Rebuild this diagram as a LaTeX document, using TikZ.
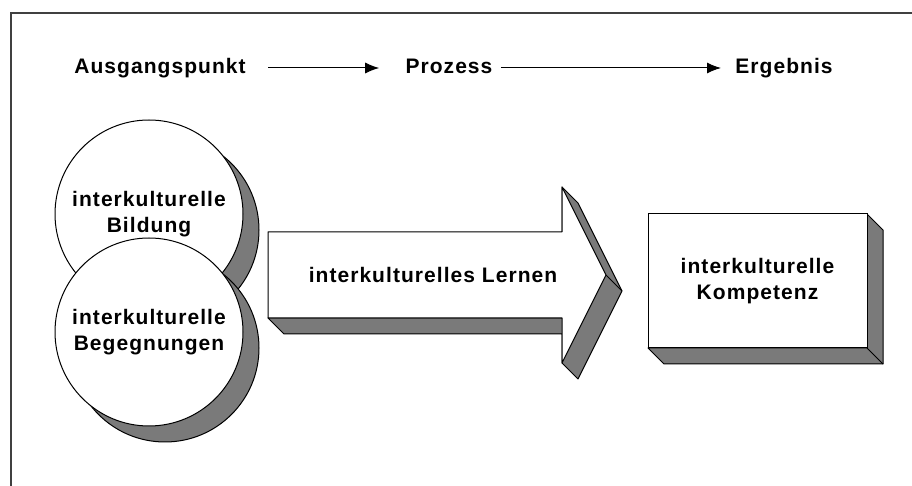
\documentclass[tikz,border=0pt]{standalone}
\usepackage{fontspec}
\setmainfont{Liberation Sans}[LetterSpace=5]
\usetikzlibrary{arrows.meta}
\tikzset{
  lbl/.style={font=\fontsize{10.5}{13}\selectfont\bfseries, align=center, inner sep=0pt},
  frontface/.style={draw, fill=white, line width=0.5pt},
  shadowface/.style={draw, fill=black!52, line width=0.5pt, line join=round},
  flow/.style={line width=0.5pt, -{Latex[length=7pt,width=5.5pt]}}
}
\begin{document}
\begin{tikzpicture}[x=0.5pt, y=-0.5pt]
  \useasboundingbox (0,0) rectangle (912,486);
  % frame
  \draw[line width=0.6pt, black!75] (912,13) -- (11,13) -- (11,486);
  % header
  \node[lbl, anchor=base] (start) at (160,74) {Ausgangspunkt};
  \node[lbl, anchor=base] (proc) at (449,74) {Prozess};
  \node[lbl, anchor=base] (result) at (784,74) {Ergebnis};
  \draw[flow, shorten <=11pt, shorten >=13pt]
    ([yshift=3pt]start.base east) -- ([yshift=3pt]proc.base west);
  \draw[flow, shorten <=4pt, shorten >=7pt]
    ([yshift=3pt]proc.base east) -- ([yshift=3pt]result.base west);
  % circles
  \draw[shadowface] (165,230) circle[radius=47pt];
  \node[frontface, circle, minimum size=94pt, lbl] (bildung) at (149,214)
    {interkulturelle\\Bildung};
  \draw[shadowface] (165,348) circle[radius=47pt];
  \node[frontface, circle, minimum size=94pt, lbl] (begegnung) at (149,332)
    {interkulturelle\\Begegnungen};
  % arrow
  \draw[shadowface] (268,318) -- (284,334) -- (562,334) -- (562,363)
    -- (578,379) -- (622,291) -- (578,203) -- (562,187) -- (562,318) -- cycle;
  \draw[line width=0.5pt] (606,275) -- (622,291);
  \draw[frontface, line join=round] (268,232) -- (562,232) -- (562,187)
    -- (606,275) -- (562,363) -- (562,318) -- (268,318) -- cycle;
  \node[lbl] (lernen) at (433,275) {interkulturelles Lernen};
  % box
  \draw[shadowface] (867,214) -- (883,230) -- (883,364) -- (664,364)
    -- (648,348) -- (867,348) -- cycle;
  \draw[line width=0.5pt] (867,348) -- (883,364);
  \node[frontface, lbl, minimum width=109.5pt, minimum height=67pt]
    (kompetenz) at (757.5,281) {interkulturelle\\Kompetenz};
\end{tikzpicture}
\end{document}
